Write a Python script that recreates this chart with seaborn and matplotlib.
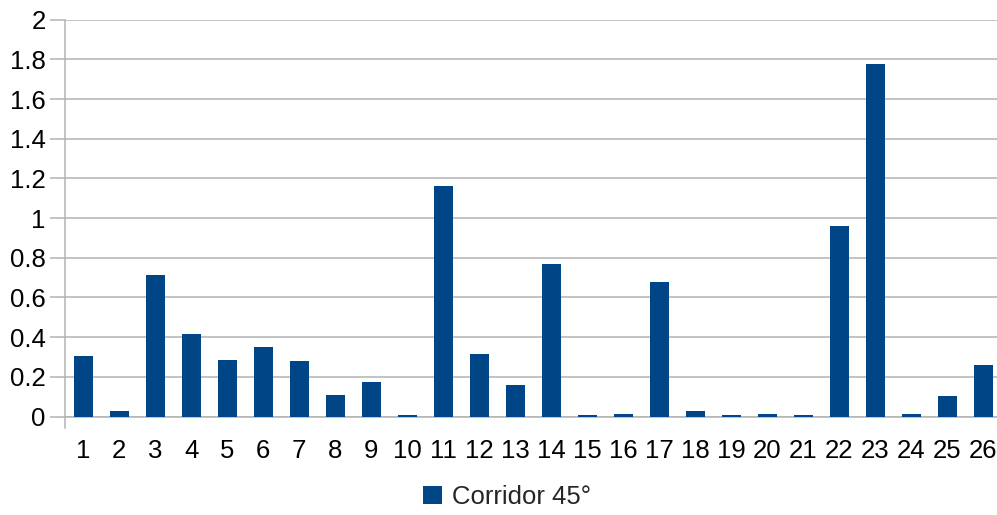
import matplotlib
matplotlib.use("Agg")
import matplotlib.pyplot as plt
import seaborn as sns
import pandas as pd
import numpy as np
from matplotlib.ticker import FixedLocator

categories = [str(i) for i in range(1, 27)]
values = [0.303, 0.030, 0.711, 0.414, 0.283, 0.348, 0.278, 0.106, 0.172, 0.010,
          1.161, 0.313, 0.161, 0.767, 0.010, 0.015, 0.676, 0.030, 0.010, 0.015,
          0.010, 0.959, 1.776, 0.015, 0.101, 0.262]
series_name = "Corridor 45°"
y_ticks = [0, 0.2, 0.4, 0.6, 0.8, 1, 1.2, 1.4, 1.6, 1.8, 2]
y_tick_labels = ["0", "0.2", "0.4", "0.6", "0.8", "1", "1.2", "1.4", "1.6", "1.8", "2"]

sns.set_style("white")
plt.rcParams["font.family"] = ["Liberation Sans", "DejaVu Sans"]

df = pd.DataFrame({"category": categories, "value": values, "series": series_name})

fig = plt.figure(figsize=(9.97, 5.15), dpi=100)
W, H = 997, 515
left, right, bottom, top = 65.3, 1001.3, 416.5, 19.7
ax = fig.add_axes([left / W, 1 - bottom / H, (right - left) / W, (bottom - top) / H])

bar_color = "#004586"
sns.barplot(data=df, x="category", y="value", hue="series", palette=[bar_color],
            width=0.53, saturation=1, linewidth=0, ax=ax, legend=True)
# bars sit on top of the axis line
for p in ax.patches:
    p.set_zorder(3)

ax.set_xlim(-0.5, len(categories) - 0.5)
ax.set_ylim(0, 2)
ax.set_yticks(y_ticks)
ax.set_yticklabels(y_tick_labels)
ax.set_xlabel("")
ax.set_ylabel("")

grid_color = "#b3b3b3"
ax.yaxis.grid(True, color=grid_color, linewidth=1.1)
ax.set_axisbelow(True)
for s in ["top", "right"]:
    ax.spines[s].set_visible(False)
ax.spines["left"].set_color(grid_color)
ax.spines["bottom"].set_color(grid_color)
ax.spines["left"].set_linewidth(1.1)
ax.spines["bottom"].set_linewidth(1.1)
ax.spines["left"].set_bounds(-0.058, 2)

# category boundary ticks below the x axis
ax.xaxis.set_minor_locator(FixedLocator(np.arange(-0.5, len(categories), 1.0)))
ax.tick_params(axis="x", which="minor", length=11, color=grid_color, width=1.1, direction="out")
ax.tick_params(axis="x", which="major", length=0, pad=16, labelsize=18.5, labelcolor="black")
ax.tick_params(axis="y", which="major", length=11, color=grid_color, width=1.1, pad=3,
               labelsize=18.5, labelcolor="black", left=True)

leg = ax.legend(loc="center", bbox_to_anchor=(507 / W, 1 - 497 / H),
                bbox_transform=fig.transFigure, frameon=False, fontsize=18.5,
                handlelength=0.75, handleheight=0.75, handletextpad=0.4)

fig.savefig("out.png", dpi=100)
